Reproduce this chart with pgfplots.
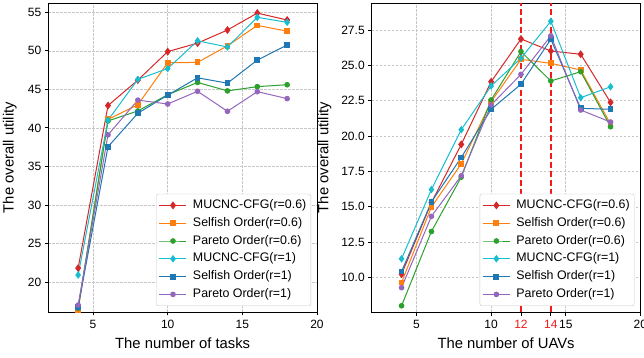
\documentclass[border=0pt]{standalone}
\usepackage{fontspec}
\setmainfont{Liberation Sans}
\usepackage{pgfplots}
\pgfplotsset{compat=1.18}
\definecolor{tred}{HTML}{D62728}
\definecolor{torange}{HTML}{FF7F0E}
\definecolor{tgreen}{HTML}{2CA02C}
\definecolor{tcyan}{HTML}{17BECF}
\definecolor{tblue}{HTML}{1F77B4}
\definecolor{tpurple}{HTML}{9467BD}
\definecolor{vred}{HTML}{F21B1B}
\pgfplotsset{
 myaxis/.style={
  scale only axis, width=268.7bp, height=308.7bp,
  xmin=2, xmax=20, xtick={5,10,15,20},
  axis line style={line width=1bp, black},
  tick align=outside, xtick pos=bottom, ytick pos=left,
  major tick length=3.5bp, tick style={line width=0.8bp, black},
  grid=major,
  major grid style={dash pattern=on 2.5bp off 1.5bp, line width=0.6bp, color=black!22},
  tick label style={font=\fontsize{12bp}{14bp}\selectfont},
  xticklabel style={yshift=-1.2bp},
  /pgf/number format/assume math mode=true,
  label style={font=\fontsize{14.8bp}{17bp}\selectfont},
  xlabel style={at={(axis description cs:0.5,-0.0833)}, anchor=north, inner sep=0pt},
  ylabel style={anchor=south, inner sep=0pt},
  legend style={at={(1,0)}, anchor=south east, xshift=-6bp, yshift=6bp,
    draw=black!22, rounded corners=2bp, fill=white,
    font=\fontsize{12.4bp}{14bp}\selectfont, inner sep=2.5bp,
    nodes={text height=9bp, text depth=3bp, inner ysep=2.9bp},
    /tikz/every odd column/.append style={column sep=4bp}},
  legend cell align=left,
  legend image code/.code={\draw[sharp corners, mark repeat=2, mark phase=2] plot coordinates {(0bp,0bp) (13.5bp,0bp) (27bp,0bp)};},
  every axis plot/.append style={line width=1bp},
 },
 sR/.style={color=tred, mark=diamond*, mark size=3.2bp},
 sS/.style={color=torange, mark=square*, mark size=2.4bp},
 sP/.style={color=tgreen, mark=*, mark size=2.3bp},
 sRR/.style={color=tcyan, mark=diamond*, mark size=3bp},
 sSS/.style={color=tblue, mark=square*, mark size=2.4bp},
 sPP/.style={color=tpurple, mark=*, mark size=2.3bp},
 vline/.style={color=vred, line width=1.4bp, dash pattern=on 6bp off 3bp, forget plot},
}
\begin{document}
\begin{tikzpicture}
\useasboundingbox (-48.3bp,-46bp) rectangle (595.7bp,312bp);
\begin{axis}[myaxis,
  ymin=16.1, ymax=56.17, ytick={20,25,...,55},
  xlabel={The number of tasks}, ylabel={The overall utility},
  ylabel style={at={(axis description cs:-0.1165,0.5)}},
]
\addplot[sR] coordinates {(4,21.8) (6,42.9) (8,46.2) (10,49.9) (12,51.0) (14,52.7) (16,54.9) (18,54.0)};
\addlegendentry{MUCNC-CFG(r=0.6)}
\addplot[sS] coordinates {(4,16.35) (6,41.1) (8,43.0) (10,48.45) (12,48.5) (14,50.65) (16,53.3) (18,52.55)};
\addlegendentry{Selfish Order(r=0.6)}
\addplot[sP] coordinates {(4,16.6) (6,40.9) (8,42.2) (10,44.3) (12,45.9) (14,44.8) (16,45.35) (18,45.6)};
\addlegendentry{Pareto Order(r=0.6)}
\addplot[sRR] coordinates {(4,20.9) (6,41.0) (8,46.3) (10,47.7) (12,51.3) (14,50.5) (16,54.35) (18,53.7)};
\addlegendentry{MUCNC-CFG(r=1)}
\addplot[sSS] coordinates {(4,16.8) (6,37.55) (8,41.9) (10,44.25) (12,46.5) (14,45.8) (16,48.8) (18,50.75)};
\addlegendentry{Selfish Order(r=1)}
\addplot[sPP] coordinates {(4,17.0) (6,39.1) (8,43.6) (10,43.1) (12,44.75) (14,42.15) (16,44.7) (18,43.8)};
\addlegendentry{Pareto Order(r=1)}
\end{axis}
\begin{axis}[myaxis, at={(323.4bp,0bp)},
  ymin=7.57, ymax=29.38, ytick={10,12.5,...,27.5},
  yticklabel style={/pgf/number format/.cd, fixed, fixed zerofill, precision=1},
  extra x ticks={12,14},
  extra x tick style={grid=none, tick label style={text=vred}},
  xlabel={The number of UAVs}, ylabel={The overall utility},
  ylabel style={at={(axis description cs:-0.149,0.5)}},
]
\addplot[vline] coordinates {(12,7.57) (12,29.38)};
\addplot[vline] coordinates {(14,7.57) (14,29.38)};
\addplot[sR] coordinates {(4,10.24) (6,15.3) (8,19.41) (10,23.84) (12,26.86) (14,26.01) (16,25.78) (18,22.38)};
\addlegendentry{MUCNC-CFG(r=0.6)}
\addplot[sS] coordinates {(4,9.65) (6,14.99) (8,18.04) (10,22.43) (12,25.42) (14,25.14) (16,24.67) (18,20.85)};
\addlegendentry{Selfish Order(r=0.6)}
\addplot[sP] coordinates {(4,8.01) (6,13.26) (8,17.1) (10,22.55) (12,25.97) (14,23.89) (16,24.55) (18,20.66)};
\addlegendentry{Pareto Order(r=0.6)}
\addplot[sRR] coordinates {(4,11.33) (6,16.22) (8,20.45) (10,23.54) (12,25.5) (14,28.11) (16,22.71) (18,23.48)};
\addlegendentry{MUCNC-CFG(r=1)}
\addplot[sSS] coordinates {(4,10.43) (6,15.34) (8,18.49) (10,21.89) (12,23.66) (14,26.84) (16,21.96) (18,21.89)};
\addlegendentry{Selfish Order(r=1)}
\addplot[sPP] coordinates {(4,9.29) (6,14.33) (8,17.19) (10,22.2) (12,24.36) (14,27.08) (16,21.84) (18,20.99)};
\addlegendentry{Pareto Order(r=1)}
\end{axis}
\end{tikzpicture}
\end{document}
